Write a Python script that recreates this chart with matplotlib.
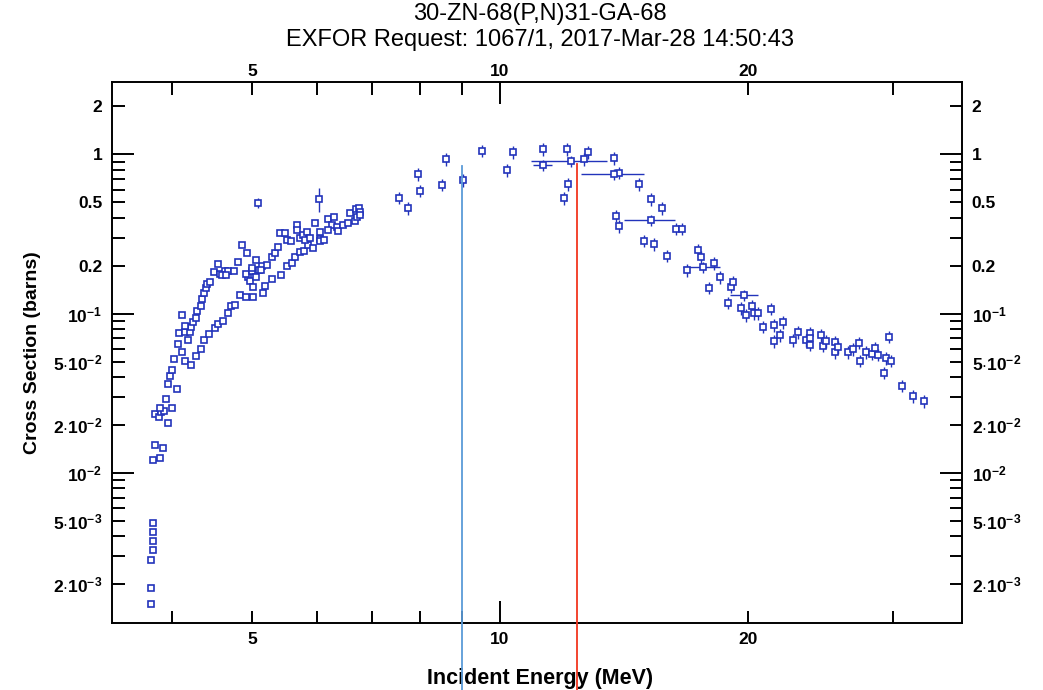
# EXFOR 30-ZN-68(P,N)31-GA-68 cross section plot

import numpy as np
import matplotlib
matplotlib.use('Agg')
import matplotlib.pyplot as plt
import matplotlib.transforms as mtrans
from matplotlib.ticker import FixedLocator, FuncFormatter

# ---- data (E in MeV, sigma in barns) ----
# low-energy column and steep upper branch
ds1 = np.array([
    [3.77, 0.00151], [3.77, 0.00191], [3.77, 0.00283], [3.79, 0.00329],
    [3.79, 0.00374], [3.79, 0.00425], [3.79, 0.00483], [3.79, 0.0121],
    [3.81, 0.0149], [3.86, 0.0124], [3.90, 0.0144], [3.81, 0.0234],
    [3.85, 0.0226], [3.88, 0.0240], [3.91, 0.0245], [3.86, 0.0257],
    [3.95, 0.0207], [4.00, 0.0255], [3.93, 0.0290], [4.05, 0.0337],
    [3.95, 0.0360], [3.98, 0.0408], [4.00, 0.0443], [4.02, 0.0519],
    [4.11, 0.0577], [4.07, 0.0642], [4.18, 0.0683], [4.08, 0.0760],
    [4.15, 0.0770], [4.20, 0.0770], [4.22, 0.0821], [4.14, 0.0840],
    [4.11, 0.0981], [4.24, 0.0882], [4.27, 0.0943], [4.29, 0.104],
    [4.33, 0.112], [4.35, 0.124], [4.37, 0.135], [4.39, 0.144],
    [4.41, 0.153], [4.45, 0.157], [4.50, 0.183], [4.54, 0.204],
    [4.57, 0.177], [4.63, 0.185], [4.68, 0.186], [4.75, 0.186],
    [4.60, 0.175], [4.65, 0.175], [4.81, 0.212], [4.86, 0.270],
    [4.93, 0.241],
])

# lower branch
ds2 = np.array([
    [4.15, 0.0507], [4.22, 0.0476], [4.27, 0.0542], [4.33, 0.0600],
    [4.37, 0.0683], [4.43, 0.0742], [4.51, 0.0813], [4.54, 0.0861],
    [4.61, 0.0903], [4.67, 0.1005], [4.71, 0.111], [4.77, 0.114],
    [4.84, 0.130], [4.92, 0.128], [5.02, 0.128], [5.15, 0.135],
    [5.19, 0.149], [5.28, 0.164], [5.42, 0.175], [5.52, 0.199],
    [5.59, 0.209], [5.64, 0.228], [5.71, 0.245], [5.78, 0.248],
    [5.85, 0.270], [5.93, 0.257], [6.05, 0.293],
])

# dense cluster 5-7 MeV
ds3 = np.array([
    [4.95, 0.171], [4.91, 0.177], [5.00, 0.184], [5.10, 0.188],
    [4.97, 0.160], [5.06, 0.171], [5.14, 0.199], [5.02, 0.148],
    [5.00, 0.193], [5.06, 0.217], [5.12, 0.188], [5.21, 0.202],
    [5.28, 0.228], [5.33, 0.239], [5.38, 0.263], [5.41, 0.319],
    [5.48, 0.319], [5.52, 0.290], [5.57, 0.286], [5.67, 0.360],
    [5.67, 0.335], [5.72, 0.297], [5.77, 0.312], [5.83, 0.327],
    [5.80, 0.290], [5.88, 0.297], [5.96, 0.369], [6.05, 0.327],
    [6.04, 0.286], [6.12, 0.290], [6.19, 0.391], [6.28, 0.402],
    [6.25, 0.360], [6.18, 0.335], [6.34, 0.351], [6.35, 0.332],
    [6.45, 0.360], [6.54, 0.369], [6.58, 0.426], [6.67, 0.383],
    [6.69, 0.452], [6.75, 0.458], [6.77, 0.433], [6.70, 0.406],
    [6.76, 0.416],
])
err3 = 0.03

# two points with large error bars
ds_big = np.array([[5.08, 0.497], [6.03, 0.522]])
err_big = [0.035, 0.09]

# 7.5-33 MeV
ds4 = np.array([
    [7.53, 0.534], [7.73, 0.458], [7.96, 0.749], [8.00, 0.591],
    [8.50, 0.645], [8.59, 0.930], [9.01, 0.687], [9.50, 1.053],
    [10.19, 0.797], [10.38, 1.029], [11.28, 1.08], [12.07, 1.08],
    [11.96, 0.530], [12.10, 0.648], [12.66, 0.930], [12.78, 1.029],
    [13.76, 0.944], [13.96, 0.766], [14.76, 0.648], [15.24, 0.522],
    [15.73, 0.458], [13.83, 0.412], [13.94, 0.355], [16.34, 0.340],
    [16.63, 0.340], [14.97, 0.287], [15.38, 0.2735], [15.93, 0.231],
    [17.41, 0.251], [17.54, 0.226], [16.87, 0.187], [18.19, 0.207],
    [18.52, 0.169], [17.95, 0.145], [19.06, 0.148], [19.16, 0.157],
    [18.93, 0.117], [19.60, 0.108], [19.88, 0.098], [20.22, 0.112],
    [20.33, 0.1005], [20.59, 0.1005], [20.86, 0.0828], [21.31, 0.107],
    [21.51, 0.0849], [21.49, 0.0673], [21.87, 0.0731], [22.07, 0.0886],
    [22.66, 0.0683], [22.98, 0.0764], [23.50, 0.0683], [23.78, 0.0753],
    [23.80, 0.0700], [23.82, 0.0636], [24.53, 0.0731], [24.64, 0.0627],
    [24.87, 0.0671], [25.55, 0.0667], [25.55, 0.0572], [25.76, 0.0615],
    [26.47, 0.0572], [26.84, 0.0600], [27.29, 0.0657], [27.40, 0.0507],
    [27.81, 0.0574], [28.28, 0.0561], [28.54, 0.0611], [28.78, 0.0553],
    [29.30, 0.0426], [29.43, 0.0527], [29.68, 0.0714], [29.82, 0.0507],
    [30.76, 0.0352], [31.74, 0.0304], [32.71, 0.0283],
])
err4 = 0.09

# points with energy bins
ds5 = np.array([
    [11.28, 0.857], [12.18, 0.904], [13.76, 0.749],
    [15.24, 0.387], [17.62, 0.195], [19.78, 0.131],
])
ds5_xlo = [0.30, 1.28, 1.20, 1.09, 0.93, 0.78]
ds5_xhi = [0.30, 1.29, 1.21, 1.09, 0.88, 0.78]
err5 = 0.08

# vertical marker lines
line_E = [9.0, 12.4]
line_top = [0.845, 0.865]
line_col = ['#5b9bd8', '#f2361f']

# ---- plot ----
plt.rcParams['font.family'] = ['Liberation Sans', 'DejaVu Sans']
plt.rcParams['font.weight'] = 'bold'
plt.rcParams['mathtext.fontset'] = 'custom'
plt.rcParams['mathtext.rm'] = 'Liberation Sans'
plt.rcParams['mathtext.bf'] = 'Liberation Sans:bold'

blue = '#2233bb'
mk = dict(fmt='s', ms=5, mfc='white', mec=blue, mew=1.2, ecolor=blue,
          elinewidth=1.0, capsize=0, ls='none')

fig = plt.figure(figsize=(10.43, 6.90), dpi=100)
ax = fig.add_axes([0.1074, 0.0967, 0.8150, 0.7840])
ax.set_xscale('log')
ax.set_yscale('log')

ax.errorbar(ds1[:, 0], ds1[:, 1], **mk)
ax.errorbar(ds2[:, 0], ds2[:, 1], **mk)
ax.errorbar(ds3[:, 0], ds3[:, 1], yerr=ds3[:, 1] * err3, **mk)
ax.errorbar(ds_big[:, 0], ds_big[:, 1], yerr=err_big, **mk)
ax.errorbar(ds4[:, 0], ds4[:, 1], yerr=ds4[:, 1] * err4, **mk)
ax.errorbar(ds5[:, 0], ds5[:, 1], yerr=ds5[:, 1] * err5,
            xerr=[ds5_xlo, ds5_xhi], **mk)

for E, top, c in zip(line_E, line_top, line_col):
    ax.plot([E, E], [3.0e-4, top], color=c, lw=1.3, clip_on=False, zorder=5)

ax.set_xlim(3.38, 36.4)
ax.set_ylim(1.14e-3, 2.83)

# x ticks
x_lab = {5: '5', 10: '10', 20: '20'}
x_minor = [4, 5, 6, 7, 8, 9, 20, 30]
ax.xaxis.set_major_locator(FixedLocator([10]))
ax.xaxis.set_minor_locator(FixedLocator(x_minor))
fx = FuncFormatter(lambda v, p: x_lab.get(int(round(v)), ''))
ax.xaxis.set_major_formatter(fx)
ax.xaxis.set_minor_formatter(fx)

# y ticks
y_lab = {2.0: '2', 1.0: '1', 0.5: '0.5', 0.2: '0.2',
         0.1: r'$\mathbf{10^{-1}}$', 0.05: r'$\mathbf{5{\cdot}10^{-2}}$',
         0.02: r'$\mathbf{2{\cdot}10^{-2}}$', 0.01: r'$\mathbf{10^{-2}}$',
         0.005: r'$\mathbf{5{\cdot}10^{-3}}$', 0.002: r'$\mathbf{2{\cdot}10^{-3}}$'}
y_minor = [m * d for d in (0.001, 0.01, 0.1) for m in range(2, 10)] + [2.0]
ax.yaxis.set_major_locator(FixedLocator([0.01, 0.1, 1.0]))
ax.yaxis.set_minor_locator(FixedLocator(y_minor))
fy = FuncFormatter(lambda v, p: y_lab.get(round(v, 6), ''))
ax.yaxis.set_major_formatter(fy)
ax.yaxis.set_minor_formatter(fy)

ax.tick_params(which='both', direction='in', top=True, right=True,
               labeltop=True, labelright=True, width=1.4, labelsize=12.5,
               color='black')
ax.tick_params(which='major', length=16)
ax.tick_params(which='minor', length=9)
ax.tick_params(axis='x', which='both', pad=6)
ax.tick_params(axis='y', which='both', pad=7)
for s in ax.spines.values():
    s.set_linewidth(1.4)

# top labels sit a little closer to the frame
shift = mtrans.ScaledTranslation(0, -0.05, fig.dpi_scale_trans)
for t in ax.xaxis.get_major_ticks(1) + ax.xaxis.get_minor_ticks(len(x_minor)):
    t.label2.set_transform(t.label2.get_transform() + shift)

ax.set_xlabel('Incident Energy (MeV)', fontsize=15.5, fontweight='bold', va='center')
ax.xaxis.set_label_coords(0.504, -0.102)
ax.set_ylabel('Cross Section (barns)', fontsize=14, fontweight='bold', va='center')
ax.yaxis.set_label_coords(-0.094, 0.5)

fig.text(0.518, 0.979, '30-ZN-68(P,N)31-GA-68', ha='center', va='center',
         fontsize=17, fontweight='normal')
fig.text(0.518, 0.942, 'EXFOR Request: 1067/1, 2017-Mar-28 14:50:43',
         ha='center', va='center', fontsize=17, fontweight='normal')

fig.savefig('out.png', dpi=100)
